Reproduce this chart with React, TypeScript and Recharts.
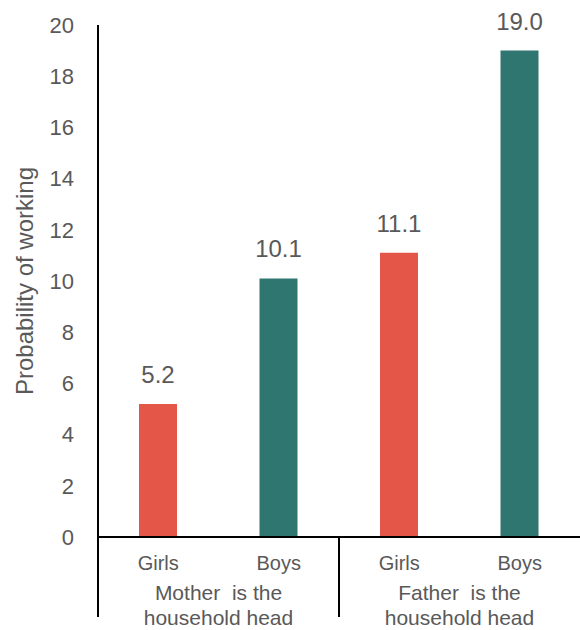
import React from 'react';
import { BarChart, Bar, XAxis, YAxis, Cell, LabelList } from 'recharts';

const categories = ['Girls', 'Boys', 'Girls', 'Boys'];
const values = [5.2, 10.1, 11.1, 19.0];
const groupLabels = [
  ['Mother  is the', 'household head'],
  ['Father  is the', 'household head'],
];
const yTicks = [0, 2, 4, 6, 8, 10, 12, 14, 16, 18, 20];
const yLabel = 'Probability of working';

const COLORS: Record<string, string> = { Girls: '#E45748', Boys: '#2E766F' };
const TEXT = '#595959';
const FONT = '"Liberation Sans", Arial, sans-serif';

const data = categories.map((c, i) => ({ key: `${c}-${i}`, category: c, value: values[i] }));

const GroupTick = (props: any) => {
  const { x, y, payload, index } = props;
  const i = typeof payload?.index === 'number' ? payload.index : index;
  const half = typeof payload?.offset === 'number' && payload.offset > 0 ? payload.offset : 60.25;
  const isFirst = i % 2 === 0;
  const g = Math.floor(i / 2);
  return (
    <g>
      <text x={x} y={y + 33} textAnchor="middle" fontSize={20} fill={TEXT} fontFamily={FONT}>
        {categories[i]}
      </text>
      {isFirst && (
        <>
          <line x1={x - half} x2={x - half} y1={y} y2={y + 80} stroke="#000" strokeWidth={2} />
          <text x={x + half} y={y + 63} textAnchor="middle" fontSize={21} fill={TEXT} fontFamily={FONT} style={{ whiteSpace: 'pre' }}>
            {groupLabels[g][0]}
          </text>
          <text x={x + half} y={y + 88} textAnchor="middle" fontSize={21} fill={TEXT} fontFamily={FONT} style={{ whiteSpace: 'pre' }}>
            {groupLabels[g][1]}
          </text>
        </>
      )}
    </g>
  );
};

export default function App() {
  return (
    <div style={{ position: 'absolute', left: 0, top: 0, width: 580, height: 630, background: '#fff' }}>
      <BarChart
        width={580}
        height={630}
        data={data}
        margin={{ top: 25, right: 0, bottom: 0, left: 0 }}
        barSize={38}
      >
        <YAxis
          type="number"
          domain={[0, 20]}
          ticks={yTicks}
          width={98}
          tickLine={false}
          tickSize={0}
          tickMargin={24}
          axisLine={{ stroke: '#000', strokeWidth: 2 }}
          tick={{ fontSize: 22, fill: TEXT, fontFamily: FONT }}
          label={{
            value: yLabel,
            angle: -90,
            position: 'center',
            dx: -25,
            style: { fontSize: 24, fill: TEXT, fontFamily: FONT, textAnchor: 'middle' },
          }}
        />
        <XAxis
          dataKey="key"
          type="category"
          height={93}
          interval={0}
          tickLine={false}
          tickSize={0}
          tickMargin={0}
          axisLine={{ stroke: '#000', strokeWidth: 2 }}
          tick={<GroupTick />}
        />
        <Bar dataKey="value" isAnimationActive={false}>
          {data.map((d) => (
            <Cell key={d.key} fill={COLORS[d.category]} />
          ))}
          <LabelList
            dataKey="value"
            position="top"
            offset={21}
            formatter={(v: any) => Number(v).toFixed(1)}
            style={{ fontSize: 24, fill: TEXT, fontFamily: FONT }}
          />
        </Bar>
      </BarChart>
    </div>
  );
}
